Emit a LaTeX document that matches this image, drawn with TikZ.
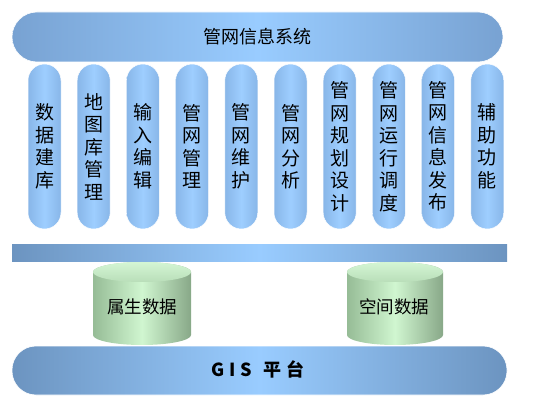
\documentclass[tikz,border=0pt]{standalone}
\usepackage{fontspec}
\setmainfont{Noto Sans CJK SC}
\definecolor{barEnd}{RGB}{108,148,192}
\definecolor{barMid}{RGB}{153,204,255}
\definecolor{topEnd}{RGB}{120,162,210}
\definecolor{pilEnd}{RGB}{136,182,232}
\definecolor{pilMid}{RGB}{158,206,255}
\definecolor{cylL}{RGB}{150,188,150}
\definecolor{cylM}{RGB}{208,246,208}
\definecolor{cylR}{RGB}{136,168,136}
\definecolor{cylTop}{RGB}{212,246,212}
\definecolor{cylTopB}{RGB}{185,222,185}
\tikzset{
  topbar/.style={rectangle, rounded corners=25pt, minimum width=491pt, minimum height=50pt,
    left color=topEnd, right color=topEnd, middle color=barMid, draw=white, line width=0.6pt,
    font=\fontsize{18}{20}\selectfont, inner sep=0pt},
  midbar/.style={rectangle, minimum width=495pt, minimum height=17pt,
    left color=barEnd, right color=barEnd, middle color=barMid, inner sep=0pt},
  gisbar/.style={rectangle, rounded corners=24pt, minimum width=495pt, minimum height=49pt,
    left color=barEnd, right color=barEnd, middle color=barMid, draw=white, line width=0.6pt, inner sep=0pt},
  pillar/.style={rectangle, rounded corners=16.5pt, minimum width=33pt, minimum height=165pt,
    left color=pilEnd, right color=pilEnd, middle color=pilMid, draw=white, line width=0.5pt,
    inner sep=0pt, align=center, font=\fontsize{19}{22.5}\selectfont},
  cylbody/.style={left color=cylL, right color=cylR, middle color=cylM},
  cyltop/.style={top color=cylTop, bottom color=cylTopB},
  cyltext/.style={font=\fontsize{17.5}{19}\selectfont, inner sep=0pt},
  gistext/.style={font=\bfseries\fontsize{18}{20}\selectfont, inner sep=0pt},
}
\begin{document}
\begin{tikzpicture}[x=1pt,y=1pt]
\useasboundingbox (0,0) rectangle (536,413);
% top system bar
\node[topbar] (sys) at (257.5,376) {管网信息系统};
% pillars
\node[pillar] (p1) at (44.5,266.5) {数\\据\\建\\库};
\node[pillar] (p2) at (93.7,266.5) {地\\图\\库\\管\\理};
\node[pillar] (p3) at (142.9,266.5) {输\\入\\编\\辑};
\node[pillar] (p4) at (192.1,266.5) {管\\网\\管\\理};
\node[pillar] (p5) at (241.3,266.5) {管\\网\\维\\护};
\node[pillar] (p6) at (290.5,266.5) {管\\网\\分\\析};
\node[pillar] (p7) at (339.7,266.5) {管\\网\\规\\划\\设\\计};
\node[pillar] (p8) at (388.9,266.5) {管\\网\\运\\行\\调\\度};
\node[pillar] (p9) at (438.1,266.5) {管\\网\\信\\息\\发\\布};
\node[pillar] (p10) at (487.3,266.5) {辅\\助\\功\\能};
% middle bar
\node[midbar] (mid) at (259.5,159.5) {};
% cylinders
\path[cylbody] (93,141) -- (93,78) arc[start angle=180, end angle=360, x radius=49pt, y radius=10pt]
  -- (191,141) arc[start angle=0, end angle=180, x radius=49pt, y radius=10pt] -- cycle;
\path[cyltop] (142,141) ellipse[x radius=49pt, y radius=10pt];
\node[cyltext] (attr) at (142,106) {属生数据};
\path[cylbody] (347,141) -- (347,78) arc[start angle=180, end angle=360, x radius=48pt, y radius=10pt]
  -- (443,141) arc[start angle=0, end angle=180, x radius=48pt, y radius=10pt] -- cycle;
\path[cyltop] (395,141) ellipse[x radius=48pt, y radius=10pt];
\node[cyltext] (spat) at (394,106) {空间数据};
% GIS platform
\node[gisbar] (gis) at (259.5,42.5) {};
\node[gistext] (gist) at (258,44) {G\kern5pt I\kern5pt S\kern12pt 平\kern5pt 台};
\end{tikzpicture}
\end{document}
